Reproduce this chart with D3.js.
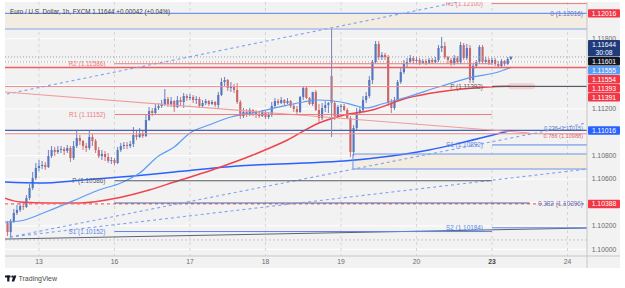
<!DOCTYPE html>
<html>
<head>
<meta charset="utf-8">
<script src="https://cdn.jsdelivr.net/npm/d3@7"></script>
<style>
  body { margin: 0; background: #fff; }
  svg text { font-family: "Liberation Sans", Arial, sans-serif; }
</style>
</head>
<body>
<div id="chart"></div>
<script>
// EUR/USD 1h chart with pivots, fib levels and moving averages
var svgWidth = 625;
var svgHeight = 288;
var plot = { left: 5, right: 587, top: 2, bottom: 256, panelRight: 620, panelBottom: 268 };

// ---- data ----
var dayTicks = [0, 24, 48, 72, 96, 120, 144, 168];
var dayLabels = ["13", "16", "17", "18", "19", "20", "23", "24"];
var priceTicks = [1.100, 1.102, 1.104, 1.106, 1.108, 1.110, 1.112, 1.114, 1.116, 1.118, 1.120];

var firstHour = -10;
// [open, high, low, close], one per hour
var ohlc = [
  [1.10225, 1.10242, 1.10114, 1.10148], [1.10148, 1.10259, 1.10097, 1.10242], [1.10242, 1.10345, 1.10225, 1.10311],
  [1.10311, 1.10379, 1.10293, 1.10336], [1.10336, 1.10396, 1.10319, 1.10370], [1.10370, 1.10405, 1.10336, 1.10362],
  [1.10362, 1.10464, 1.10353, 1.10439], [1.10439, 1.10558, 1.10422, 1.10524], [1.10524, 1.10661, 1.10507, 1.10609],
  [1.10609, 1.10738, 1.10592, 1.10695], [1.10695, 1.10763, 1.10669, 1.10712], [1.10712, 1.10755, 1.10686, 1.10721],
  [1.10721, 1.10746, 1.10678, 1.10703], [1.10703, 1.10849, 1.10695, 1.10797], [1.10797, 1.10883, 1.10780, 1.10849],
  [1.10849, 1.10874, 1.10797, 1.10832], [1.10832, 1.10883, 1.10815, 1.10849], [1.10849, 1.10883, 1.10823, 1.10857],
  [1.10857, 1.10874, 1.10806, 1.10840], [1.10840, 1.10892, 1.10823, 1.10866], [1.10866, 1.10883, 1.10746, 1.10780],
  [1.10780, 1.10926, 1.10763, 1.10883], [1.10883, 1.11011, 1.10866, 1.10951], [1.10951, 1.10977, 1.10892, 1.10926],
  [1.10926, 1.10934, 1.10849, 1.10883], [1.10883, 1.10909, 1.10832, 1.10866], [1.10866, 1.11011, 1.10849, 1.10960],
  [1.10960, 1.10986, 1.10883, 1.10926], [1.10926, 1.10943, 1.10823, 1.10849], [1.10849, 1.10874, 1.10780, 1.10797],
  [1.10797, 1.10849, 1.10763, 1.10815], [1.10815, 1.10840, 1.10755, 1.10789], [1.10789, 1.10823, 1.10738, 1.10755],
  [1.10755, 1.10789, 1.10729, 1.10763], [1.10763, 1.10780, 1.10721, 1.10738], [1.10738, 1.10874, 1.10729, 1.10849],
  [1.10849, 1.10909, 1.10832, 1.10883], [1.10883, 1.10917, 1.10857, 1.10892], [1.10892, 1.10917, 1.10857, 1.10883],
  [1.10883, 1.10926, 1.10866, 1.10900], [1.10900, 1.11045, 1.10874, 1.10977], [1.10977, 1.11020, 1.10934, 1.10960],
  [1.10960, 1.11037, 1.10951, 1.10994], [1.10994, 1.11011, 1.10951, 1.10968], [1.10968, 1.11156, 1.10960, 1.11105],
  [1.11105, 1.11216, 1.11097, 1.11182], [1.11182, 1.11208, 1.11139, 1.11165], [1.11165, 1.11242, 1.11156, 1.11208],
  [1.11208, 1.11250, 1.11191, 1.11225], [1.11225, 1.11276, 1.11208, 1.11242], [1.11242, 1.11370, 1.11225, 1.11285],
  [1.11285, 1.11302, 1.11216, 1.11242], [1.11242, 1.11302, 1.11216, 1.11267], [1.11267, 1.11276, 1.11174, 1.11216],
  [1.11216, 1.11310, 1.11208, 1.11276], [1.11276, 1.11302, 1.11225, 1.11259], [1.11259, 1.11336, 1.11208, 1.11310],
  [1.11310, 1.11327, 1.11267, 1.11293], [1.11293, 1.11327, 1.11276, 1.11302], [1.11302, 1.11319, 1.11250, 1.11276],
  [1.11276, 1.11310, 1.11242, 1.11285], [1.11285, 1.11302, 1.11208, 1.11225], [1.11225, 1.11276, 1.11216, 1.11250],
  [1.11250, 1.11285, 1.11233, 1.11267], [1.11267, 1.11276, 1.11225, 1.11242], [1.11242, 1.11276, 1.11233, 1.11259],
  [1.11259, 1.11267, 1.11216, 1.11233], [1.11233, 1.11345, 1.11208, 1.11319], [1.11319, 1.11464, 1.11310, 1.11430],
  [1.11430, 1.11473, 1.11396, 1.11447], [1.11447, 1.11456, 1.11353, 1.11379], [1.11379, 1.11430, 1.11345, 1.11396],
  [1.11396, 1.11413, 1.11336, 1.11362], [1.11362, 1.11421, 1.11242, 1.11259], [1.11259, 1.11276, 1.11114, 1.11139],
  [1.11139, 1.11208, 1.11122, 1.11174], [1.11174, 1.11199, 1.11131, 1.11148], [1.11148, 1.11208, 1.11139, 1.11191],
  [1.11191, 1.11199, 1.11139, 1.11165], [1.11165, 1.11191, 1.11122, 1.11156], [1.11156, 1.11174, 1.11122, 1.11139],
  [1.11139, 1.11191, 1.11131, 1.11174], [1.11174, 1.11182, 1.11114, 1.11131], [1.11131, 1.11174, 1.11114, 1.11148],
  [1.11148, 1.11259, 1.11131, 1.11225], [1.11225, 1.11293, 1.11208, 1.11267], [1.11267, 1.11285, 1.11233, 1.11250],
  [1.11250, 1.11302, 1.11242, 1.11276], [1.11276, 1.11285, 1.11233, 1.11250], [1.11250, 1.11293, 1.11242, 1.11267],
  [1.11267, 1.11276, 1.11208, 1.11225], [1.11225, 1.11242, 1.11174, 1.11199], [1.11199, 1.11225, 1.11156, 1.11174],
  [1.11174, 1.11310, 1.11165, 1.11302], [1.11302, 1.11396, 1.11276, 1.11379], [1.11379, 1.11396, 1.11285, 1.11293],
  [1.11293, 1.11302, 1.11233, 1.11242], [1.11242, 1.11345, 1.11225, 1.11345], [1.11345, 1.11362, 1.11182, 1.11191],
  [1.11191, 1.11242, 1.11088, 1.11122], [1.11122, 1.11250, 1.11105, 1.11208], [1.11208, 1.11267, 1.11174, 1.11233],
  [1.11233, 1.11259, 1.11165, 1.11250], [1.11481, 1.11874, 1.10960, 1.11250], [1.11250, 1.11267, 1.11105, 1.11139],
  [1.11139, 1.11233, 1.11122, 1.11216], [1.11216, 1.11242, 1.11174, 1.11225], [1.11225, 1.11242, 1.11182, 1.11191],
  [1.11191, 1.11208, 1.11114, 1.11122], [1.11122, 1.11139, 1.10789, 1.10832], [1.10832, 1.11062, 1.10797, 1.11037],
  [1.11037, 1.11208, 1.11011, 1.11174], [1.11174, 1.11216, 1.11156, 1.11191], [1.11191, 1.11310, 1.11174, 1.11276],
  [1.11276, 1.11345, 1.11250, 1.11310], [1.11310, 1.11481, 1.11293, 1.11447], [1.11447, 1.11618, 1.11413, 1.11601],
  [1.11601, 1.11780, 1.11584, 1.11755], [1.11755, 1.11780, 1.11618, 1.11643], [1.11643, 1.11686, 1.11618, 1.11661],
  [1.11661, 1.11678, 1.11618, 1.11643], [1.11643, 1.11661, 1.11225, 1.11250], [1.11250, 1.11285, 1.11165, 1.11208],
  [1.11208, 1.11302, 1.11191, 1.11276], [1.11276, 1.11447, 1.11267, 1.11430], [1.11430, 1.11549, 1.11413, 1.11515],
  [1.11515, 1.11618, 1.11498, 1.11584], [1.11584, 1.11635, 1.11558, 1.11601], [1.11601, 1.11661, 1.11592, 1.11635],
  [1.11635, 1.11652, 1.11584, 1.11609], [1.11609, 1.11643, 1.11592, 1.11618], [1.11618, 1.11635, 1.11575, 1.11592],
  [1.11592, 1.11626, 1.11584, 1.11609], [1.11609, 1.11626, 1.11575, 1.11592], [1.11592, 1.11635, 1.11584, 1.11618],
  [1.11618, 1.11635, 1.11584, 1.11601], [1.11601, 1.11643, 1.11592, 1.11618], [1.11618, 1.11746, 1.11601, 1.11720],
  [1.11720, 1.11814, 1.11686, 1.11737], [1.11737, 1.11772, 1.11626, 1.11643], [1.11643, 1.11652, 1.11584, 1.11618],
  [1.11618, 1.11635, 1.11567, 1.11592], [1.11592, 1.11661, 1.11575, 1.11635], [1.11635, 1.11652, 1.11584, 1.11601],
  [1.11601, 1.11772, 1.11584, 1.11746], [1.11746, 1.11763, 1.11618, 1.11635], [1.11635, 1.11755, 1.11618, 1.11720],
  [1.11720, 1.11746, 1.11421, 1.11447], [1.11447, 1.11584, 1.11421, 1.11567], [1.11567, 1.11618, 1.11549, 1.11601],
  [1.11601, 1.11746, 1.11584, 1.11729], [1.11729, 1.11746, 1.11584, 1.11601], [1.11601, 1.11643, 1.11584, 1.11618],
  [1.11618, 1.11635, 1.11575, 1.11592], [1.11592, 1.11635, 1.11575, 1.11618], [1.11618, 1.11635, 1.11567, 1.11584],
  [1.11584, 1.11609, 1.11549, 1.11567], [1.11567, 1.11626, 1.11549, 1.11609], [1.11609, 1.11618, 1.11567, 1.11584],
  [1.11584, 1.11643, 1.11575, 1.11626], [1.11626, 1.11652, 1.11618, 1.11644]
];

// moving averages, [hour, price]
var fastMA = [[-11, 1.10233], [-6, 1.10242], [3, 1.10328], [13, 1.10439], [19, 1.10507], [26, 1.10567], [32, 1.10652],
  [38, 1.10797], [43, 1.10874], [48, 1.10994], [54, 1.11062], [61, 1.11131], [68, 1.11165], [79, 1.11233], [84, 1.11259],
  [89, 1.11276], [96, 1.11259], [100, 1.11233], [104, 1.11208], [109, 1.11242], [117, 1.11302], [127, 1.11387],
  [138, 1.11473], [146, 1.11515], [150, 1.11555]];
var redMA = [[-11, 1.10439], [-6, 1.10405], [3, 1.10396], [13, 1.10396], [25, 1.10439], [35, 1.10507], [43, 1.10575],
  [55, 1.10678], [68, 1.10806], [79, 1.10934], [89, 1.11080], [97, 1.11148], [106, 1.11191], [117, 1.11293],
  [127, 1.11345], [138, 1.11379], [150, 1.11393]];
var longMA = [[-11, 1.10575], [0, 1.10567], [14, 1.10592], [30, 1.10627], [43, 1.10661], [63, 1.10712], [84, 1.10738],
  [97, 1.10755], [112, 1.10797], [124, 1.10849], [134, 1.10909], [143, 1.10968], [150, 1.11016]];

// daily pivots: name, price, start hour, end hour
var pivotNames = ["R2", "R1", "P", "S1", "R1", "P", "S1", "S2"];
var pivotPrices = [1.11586, 1.11152, 1.10586, 1.10152, 1.12100, 1.11392, 1.10892, 1.10184];
var pivotStart = [24, 24, 24, 24, 144, 144, 144, 144];
var pivotEnd = [144, 144, 144, 144, 174.2, 174.2, 174.2, 174.2];

// fib levels and other drawings
var fibTop = [1.12016, 1.11883];
var fibLow = [1.10815, 1.10686];
var fibLowStart = 99.8;
var fibAnchor = { hour: 93, top: 1.11883, bottom: 1.10960 };
var fibLabels = ["0 (1.12016)", "0.236 (1.11015)", "0.786 (1.10988)", "0.382 (1.10396)"];
var fibLabelPrices = [1.12016, 1.11016, 1.10988, 1.10388];
var fibLabelKinds = ["blue", "blue", "red", "blue"];
var channelLines = [
  [[-10.2, 1.11327], [140, 1.12150]],
  [[-9.2, 1.10105], [174.2, 1.11080]],
  [[-9.2, 1.10105], [174.2, 1.10686]]
];
var redTrend = [[-10.8, 1.11345], [156, 1.10994]];
var grayTrend = [[-10.8, 1.10088], [174.2, 1.10182]];
var fib382Line = { price: 1.10396, from: 24, to: 156 };

// full-width horizontal lines: price + kind
var hLinePrices = [1.11644, 1.11601, 1.11554, 1.11391, 1.11016, 1.10988, 1.10388, 1.10080];
var hLineKinds = ["dotted", "dotted", "redThick", "redThin", "navy", "redThin", "redDash", "lightDot"];

// right-axis price marks
var markPrices = [1.12016, 1.11644, 1.11601, 1.11555, 1.11554, 1.11393, 1.11391, 1.11016, 1.10388];
var markKinds = ["red", "last", "black", "lightblue", "red", "red", "red", "blue", "red"];
var countdown = "30:08";

// ---- styles ----
var colors = {
  up: "#5676bd", down: "#c9676b",
  fast: "#5b9cf6", red: "#f0444c", long: "#2962ff",
  pivotR: "#ee7c7c", pivotP: "#555b66", pivotS: "#5a86e8",
  fibBlue: "#6f95ee", band: "#f3ece1",
  grid: "#ffffff", vgrid: "#d6d6d6", axis: "#c6c6c6", tick: "#6b6b6b"
};
var markColors = { red: "#f23645", last: "#1f3b7a", black: "#131722", lightblue: "#5b9cf6", blue: "#2962ff" };
var lineStyles = {
  dotted: { color: "#9a9ea6", width: 1, dash: "1,2" },
  redThick: { color: "#f05c60", width: 1.6, dash: null },
  redThin: { color: "#f08c8c", width: 1, dash: null },
  navy: { color: "#4563b0", width: 1.2, dash: null },
  redDash: { color: "#f06c70", width: 1.2, dash: "3,3" },
  lightDot: { color: "#c4c4c4", width: 1, dash: "2,2" }
};

// ---- setup ----
var svg = d3.select("#chart")
  .append("svg")
  .attr("width", svgWidth)
  .attr("height", svgHeight);

var x = d3.scaleLinear().domain([-10.8, 174.2]).range([plot.left, plot.right]);
var y = d3.scaleLinear().domain([1.09943, 1.12105]).range([plot.bottom, 3]);

svg.append("rect")
  .attr("x", plot.left).attr("y", plot.top)
  .attr("width", plot.panelRight - plot.left).attr("height", plot.panelBottom - plot.top)
  .attr("fill", "#f2f2f2");

svg.append("clipPath").attr("id", "clip")
  .append("rect")
  .attr("x", plot.left).attr("y", plot.top)
  .attr("width", plot.right - plot.left).attr("height", plot.bottom - plot.top);

var chart = svg.append("g").attr("clip-path", "url(#clip)");

// grid
chart.selectAll(".hgrid").data(priceTicks).enter().append("line")
  .attr("x1", plot.left).attr("x2", plot.right)
  .attr("y1", d => y(d)).attr("y2", d => y(d))
  .attr("stroke", colors.grid).attr("stroke-width", 1);

chart.selectAll(".vgrid").data(dayTicks).enter().append("line")
  .attr("x1", d => x(d)).attr("x2", d => x(d))
  .attr("y1", plot.top).attr("y2", plot.bottom)
  .attr("stroke", colors.vgrid).attr("stroke-dasharray", "3,3");

// fib bands
chart.append("rect")
  .attr("x", plot.left).attr("width", plot.right - plot.left)
  .attr("y", y(fibTop[0])).attr("height", y(fibTop[1]) - y(fibTop[0]))
  .attr("fill", colors.band);
chart.append("rect")
  .attr("x", x(fibLowStart)).attr("width", plot.right - x(fibLowStart))
  .attr("y", y(fibLow[0])).attr("height", y(fibLow[1]) - y(fibLow[0]))
  .attr("fill", colors.band);

// candles
var candles = ohlc.map(function (d, i) {
  return { hour: firstHour + i, o: d[0], h: d[1], l: d[2], c: d[3] };
});
var step = x(1) - x(0);
var bodyW = step * 0.68;

var cg = chart.selectAll(".candle").data(candles).enter().append("g");
cg.append("line")
  .attr("x1", d => x(d.hour)).attr("x2", d => x(d.hour))
  .attr("y1", d => y(d.h)).attr("y2", d => y(d.l))
  .attr("stroke", d => d.c >= d.o ? colors.up : colors.down)
  .attr("stroke-width", 0.9);
cg.append("rect")
  .attr("x", d => x(d.hour) - bodyW / 2)
  .attr("width", bodyW)
  .attr("y", d => y(Math.max(d.o, d.c)))
  .attr("height", d => Math.max(0.8, Math.abs(y(d.o) - y(d.c))))
  .attr("fill", d => d.c >= d.o ? colors.up : colors.down);

// moving averages
var maLine = d3.line().x(d => x(d[0])).y(d => y(d[1])).curve(d3.curveMonotoneX);
chart.append("path").attr("d", maLine(longMA)).attr("fill", "none")
  .attr("stroke", colors.long).attr("stroke-width", 1.5);
chart.append("path").attr("d", maLine(redMA)).attr("fill", "none")
  .attr("stroke", colors.red).attr("stroke-width", 1.5);
chart.append("path").attr("d", maLine(fastMA)).attr("fill", "none")
  .attr("stroke", colors.fast).attr("stroke-width", 1.2);

// horizontal lines across the plot
hLinePrices.forEach(function (p, i) {
  var s = lineStyles[hLineKinds[i]];
  chart.append("line")
    .attr("x1", plot.left).attr("x2", plot.right)
    .attr("y1", y(p)).attr("y2", y(p))
    .attr("stroke", s.color).attr("stroke-width", s.width)
    .attr("stroke-dasharray", s.dash);
});

// fib lines
fibTop.forEach(function (p, i) {
  chart.append("line")
    .attr("x1", plot.left).attr("x2", plot.right)
    .attr("y1", y(p)).attr("y2", y(p))
    .attr("stroke", colors.fibBlue).attr("stroke-width", i == 0 ? 1.2 : 1.6)
    .attr("stroke-opacity", i == 0 ? 1 : 0.55);
});
fibLow.forEach(function (p) {
  chart.append("line")
    .attr("x1", x(fibLowStart)).attr("x2", plot.right)
    .attr("y1", y(p)).attr("y2", y(p))
    .attr("stroke", colors.fibBlue).attr("stroke-width", 1.1);
});
chart.append("line")
  .attr("x1", x(fibLowStart)).attr("x2", x(fibLowStart))
  .attr("y1", y(fibLow[0])).attr("y2", y(fibLow[1]))
  .attr("stroke", colors.fibBlue);
chart.append("line")
  .attr("x1", x(fibAnchor.hour)).attr("x2", x(fibAnchor.hour))
  .attr("y1", y(fibAnchor.top)).attr("y2", y(fibAnchor.bottom))
  .attr("stroke", "#7d8fb8").attr("stroke-width", 1);
chart.append("line")
  .attr("x1", x(fib382Line.from)).attr("x2", x(fib382Line.to))
  .attr("y1", y(fib382Line.price)).attr("y2", y(fib382Line.price))
  .attr("stroke", "#4a5f9c").attr("stroke-width", 1);

// trend lines
var straight = d3.line().x(d => x(d[0])).y(d => y(d[1]));
channelLines.forEach(function (pts) {
  chart.append("path").attr("d", straight(pts)).attr("fill", "none")
    .attr("stroke", "#7ea2ee").attr("stroke-width", 1.1).attr("stroke-dasharray", "3,3");
});
chart.append("path").attr("d", straight(redTrend)).attr("fill", "none")
  .attr("stroke", "#f29a9a").attr("stroke-width", 1.1);
chart.append("path").attr("d", straight(grayTrend)).attr("fill", "none")
  .attr("stroke", "#5d6270").attr("stroke-width", 1);

// pink marker next to the new pivot
chart.append("rect")
  .attr("x", x(149)).attr("width", x(157.7) - x(149))
  .attr("y", y(1.11393) - 3).attr("height", 6).attr("rx", 3)
  .attr("fill", "#f6b9bb").attr("opacity", 0.6);

// pivots
function pivotColor(name) {
  if (name[0] == "R") return colors.pivotR;
  if (name[0] == "S") return colors.pivotS;
  return colors.pivotP;
}
pivotNames.forEach(function (name, i) {
  var c = pivotColor(name);
  chart.append("line")
    .attr("x1", x(pivotStart[i])).attr("x2", x(pivotEnd[i]))
    .attr("y1", y(pivotPrices[i])).attr("y2", y(pivotPrices[i]))
    .attr("stroke", c).attr("stroke-width", name == "P" ? 1.2 : 1);
  chart.append("text")
    .attr("x", x(pivotStart[i]) - 9)
    .attr("y", y(pivotPrices[i]))
    .attr("dy", "0.35em")
    .attr("text-anchor", "end")
    .attr("font-size", "6.4px")
    .attr("fill", c)
    .text(name + " (" + pivotPrices[i].toFixed(5) + ")");
});

// fib labels (the two close ones are nudged apart)
var fibNudge = [0, -2.6, 2.6, 0];
fibLabels.forEach(function (t, i) {
  chart.append("text")
    .attr("x", plot.right - 4)
    .attr("y", y(fibLabelPrices[i]) + fibNudge[i])
    .attr("dy", "0.35em")
    .attr("text-anchor", "end")
    .attr("font-size", i == 1 || i == 2 ? "5.6px" : "6.4px")
    .attr("fill", fibLabelKinds[i] == "red" ? "#e0666a" : "#5c78c4")
    .text(t);
});

// header
svg.append("text")
  .attr("x", 10).attr("y", 12).attr("dy", "0.35em")
  .attr("font-size", "6.3px").attr("fill", "#3c3c3c")
  .text("Euro / U.S. Dollar, 1h, FXCM  1.11644  +0.00042 (+0.04%)");

// axes frame
svg.append("line")
  .attr("x1", plot.left).attr("x2", plot.panelRight)
  .attr("y1", plot.bottom).attr("y2", plot.bottom)
  .attr("stroke", colors.axis);
svg.append("line")
  .attr("x1", plot.right).attr("x2", plot.right)
  .attr("y1", plot.top).attr("y2", plot.panelBottom)
  .attr("stroke", colors.axis);

// x axis labels
svg.selectAll(".xlab").data(dayTicks).enter().append("text")
  .attr("x", d => x(d))
  .attr("y", 262).attr("dy", "0.35em")
  .attr("text-anchor", "middle")
  .attr("font-size", "6.8px")
  .attr("fill", (d, i) => dayLabels[i] == "23" ? "#444" : colors.tick)
  .attr("font-weight", (d, i) => dayLabels[i] == "23" ? "bold" : null)
  .text((d, i) => dayLabels[i]);

// price axis ticks (hidden where a price mark sits)
var visibleTicks = priceTicks.filter(function (t) {
  return d3.min(markPrices, p => Math.abs(y(p) - y(t))) > 6;
});
svg.selectAll(".ylab").data(visibleTicks).enter().append("text")
  .attr("x", 604).attr("y", d => y(d)).attr("dy", "0.35em")
  .attr("text-anchor", "middle")
  .attr("font-size", "6.8px")
  .attr("fill", colors.tick)
  .text(d => d.toFixed(5));

// price marks: stack overlapping boxes around their prices
var marks = markPrices.map(function (p, i) {
  var hgt = markKinds[i] == "last" ? 17 : 9;
  return { price: p, kind: markKinds[i], y: y(p), h: hgt, w: markKinds[i] == "last" ? 3 : 1 };
}).sort((a, b) => a.y - b.y);

var blocks = marks.map(d => ({ items: [d], top: d.y - d.h / 2, h: d.h }));
var merged = true;
while (merged) {
  merged = false;
  for (var i = 0; i < blocks.length - 1; i++) {
    if (blocks[i].top + blocks[i].h > blocks[i + 1].top) {
      var its = blocks[i].items.concat(blocks[i + 1].items);
      var off = 0, sw = 0, s = 0;
      its.forEach(function (d) { s += d.w * (d.y - off - d.h / 2); sw += d.w; off += d.h; });
      blocks.splice(i, 2, { items: its, top: s / sw, h: off });
      merged = true;
      break;
    }
  }
}
blocks.forEach(function (b) {
  var t = b.top;
  b.items.forEach(function (d) { d.top = t; t += d.h; });
});

marks.forEach(function (d) {
  svg.append("rect")
    .attr("x", plot.right + 1).attr("y", d.top + 0.3)
    .attr("width", plot.panelRight - plot.right - 1).attr("height", d.h - 0.6)
    .attr("rx", 1)
    .attr("fill", markColors[d.kind]);
  svg.append("text")
    .attr("x", 604).attr("y", d.kind == "last" ? d.top + 5 : d.top + d.h / 2)
    .attr("dy", "0.35em")
    .attr("text-anchor", "middle")
    .attr("font-size", "6.8px")
    .attr("fill", "#fff")
    .text(d.price.toFixed(5));
  if (d.kind == "last") {
    svg.append("text")
      .attr("x", 604).attr("y", d.top + 12.5)
      .attr("dy", "0.35em")
      .attr("text-anchor", "middle")
      .attr("font-size", "6.8px")
      .attr("fill", "#fff")
      .text(countdown);
  }
});

// TradingView logo
var logo = svg.append("g").attr("fill", "#131722");
logo.append("rect").attr("x", 5).attr("y", 275.5).attr("width", 5.5).attr("height", 2);
logo.append("rect").attr("x", 7.2).attr("y", 275.5).attr("width", 2.2).attr("height", 6);
logo.append("circle").attr("cx", 12.3).attr("cy", 276.6).attr("r", 1.1);
logo.append("path").attr("d", "M13.6,275.5 L16.4,275.5 L14.2,281.5 L11.6,281.5 Z");
svg.append("text")
  .attr("x", 18.5).attr("y", 278.7).attr("dy", "0.35em")
  .attr("font-size", "7px").attr("fill", "#4a4a4a")
  .text("TradingView");
</script>
</body>
</html>
